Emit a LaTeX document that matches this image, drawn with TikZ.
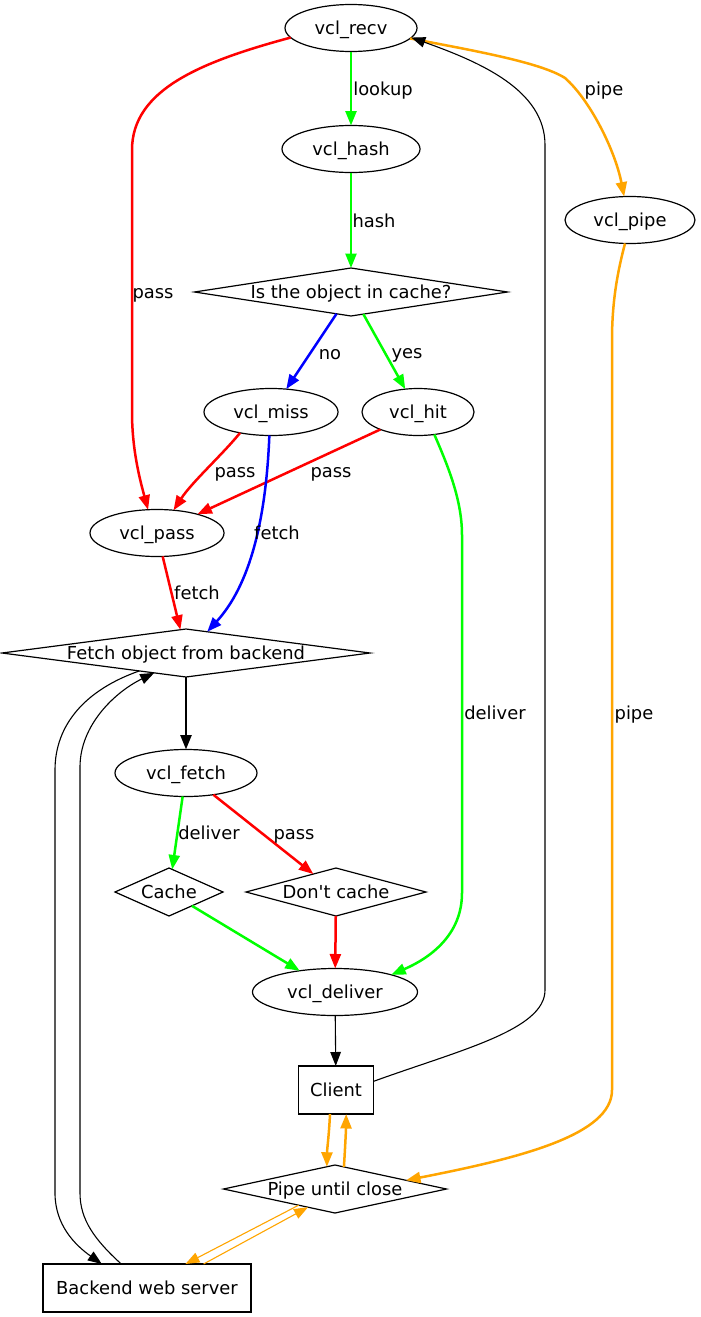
\documentclass[tikz,border=0pt]{standalone}
\usepackage{fontspec}
\setmainfont{DejaVu Sans}
\usetikzlibrary{shapes.geometric,arrows.meta}
\definecolor{vgreen}{RGB}{0,255,0}
\definecolor{vred}{RGB}{255,0,0}
\definecolor{vblue}{RGB}{0,0,255}
\definecolor{vorange}{RGB}{255,165,0}

\begin{document}
\begin{tikzpicture}[x=1pt,y=-1pt,
  font=\fontsize{17.9}{21}\selectfont,
  every node/.style={text height=14pt,text depth=2pt,inner sep=0pt,outer sep=0pt},
  state/.style={draw,line width=1.2pt,ellipse,minimum height=47pt},
  decision/.style={draw,line width=1.2pt,diamond,minimum height=48pt},
  boxnode/.style={draw,line width=1.2pt,rectangle,minimum height=48pt},
  flow/.style={line width=2.5pt,-{Triangle[length=14.5pt,width=11pt]}},
  thinflow/.style={line width=1.1pt,-{Triangle[length=14pt,width=10.5pt]}},
  edgelabel/.style={anchor=center}
]
% canvas
\fill[white] (0,0) rectangle (701,1317);
\useasboundingbox (0,0) rectangle (701,1317);

% request states and decisions
\node[state,minimum width=132pt] (recv) at (351,28) {vcl\_recv};
\node[state,minimum width=138pt] (hash) at (351,149) {vcl\_hash};
\node[decision,minimum width=313pt,label=center:{Is the object in cache?}] (incache) at (351,292) {};
\node[state,minimum width=130pt] (pipe) at (630,220) {vcl\_pipe};
\node[state,minimum width=134pt] (miss) at (271,412) {vcl\_miss};
\node[state,minimum width=112pt] (hit) at (418,412) {vcl\_hit};
\node[state,minimum width=134pt] (pass) at (157,533) {vcl\_pass};
\node[decision,minimum width=368pt,label=center:{Fetch object from backend}] (fetchq) at (186,653) {};
\node[state,minimum width=142pt] (fetch) at (186,773) {vcl\_fetch};
\node[decision,minimum width=108pt,label=center:{Cache}] (cache) at (169,892) {};
\node[decision,minimum width=180pt,label=center:{Don\textquotesingle t cache}] (nocache) at (336,892) {};
\node[state,minimum width=165pt] (deliver) at (335,992) {vcl\_deliver};
\node[boxnode,minimum width=75pt] (client) at (336,1090) {Client};
\node[decision,minimum width=223pt,label=center:{Pipe until close}] (pipeclose) at (335,1189) {};
\node[boxnode,minimum width=208pt] (backend) at (147,1288) {Backend web server};

% lookup path
\draw[flow,vgreen] (recv) -- (hash);
\draw[flow,vgreen] (hash) -- (incache);
\draw[flow,vblue] (incache) -- (miss);
\draw[flow,vgreen] (incache) -- (hit);

% pass paths
\draw[flow,vred] (recv.189) .. controls (200,62) and (132,90) .. (132,150)
  -- (132,412) .. controls (132,450) and (140,480) .. (pass.111);
\draw[flow,vred] (miss.214) .. controls (222,455) and (192,482) .. (pass.54);
\draw[flow,vred] (hit) -- (pass);

% pipe path
\draw[flow,vorange] (recv.350) .. controls (470,50) and (540,62) .. (565,78)
  .. controls (590,100) and (615,150) .. (pipe.104);
\draw[flow,vorange] (pipe.258) .. controls (618,270) and (612,300) .. (612,340)
  -- (612,1090) .. controls (612,1135) and (520,1158) .. (pipeclose.7);

% fetch paths
\draw[flow,vblue] (miss.266) .. controls (266,520) and (250,585) .. (fetchq.45);
\draw[flow,vred] (pass) -- (fetchq);
\draw[flow,black] (fetchq) -- (fetch);
\draw[flow,vgreen] (fetch) -- (cache);
\draw[flow,vred] (fetch) -- (nocache);
\draw[flow,vgreen] (cache) -- (deliver);
\draw[flow,vred] (nocache) -- (deliver);
\draw[flow,vgreen] (hit.306) .. controls (448,466) and (462,500) .. (462,535)
  -- (462,893) .. controls (462,935) and (430,958) .. (deliver.17);

% client and backend
\draw[thinflow,black] (deliver) -- (client);
\draw[thinflow,black] (client.13) .. controls (460,1050) and (545,1030) .. (545,990)
  -- (545,145) .. controls (545,90) and (480,62) .. (recv.351);
\draw[thinflow,black] (fetchq.201) .. controls (85,690) and (55,725) .. (55,770)
  -- (55,1193) .. controls (55,1225) and (75,1245) .. (backend.152);
\draw[thinflow,black] (backend.137) .. controls (95,1240) and (80,1220) .. (80,1193)
  -- (80,767) .. controls (80,725) and (115,692) .. (fetchq.212);
\draw[flow,vorange] (client.256) .. controls (329,1135) and (327,1150) .. (pipeclose.110);
\draw[flow,vorange] (pipeclose.68) .. controls (345,1150) and (346,1130) .. (client.293);
\draw[thinflow,vorange] (pipeclose.204) -- (backend.32);
\draw[thinflow,vorange] (backend.23) -- (pipeclose.214);

% edge labels
\node[edgelabel] (l-lookup) at (383,89) {lookup};
\node[edgelabel] (l-hash) at (374,221) {hash};
\node[edgelabel] (l-recvpass) at (153,292) {pass};
\node[edgelabel] (l-recvpipe) at (604,89) {pipe};
\node[edgelabel] (l-no) at (330,353) {no};
\node[edgelabel] (l-yes) at (407,352) {yes};
\node[edgelabel] (l-misspass) at (235,471) {pass};
\node[edgelabel] (l-hitpass) at (331,471) {pass};
\node[edgelabel] (l-missfetch) at (277,533) {fetch};
\node[edgelabel] (l-passfetch) at (197,593) {fetch};
\node[edgelabel] (l-hitdeliver) at (495,713) {deliver};
\node[edgelabel] (l-pipe) at (634,713) {pipe};
\node[edgelabel] (l-fetchdeliver) at (209,833) {deliver};
\node[edgelabel] (l-fetchpass) at (294,833) {pass};
\end{tikzpicture}
\end{document}
